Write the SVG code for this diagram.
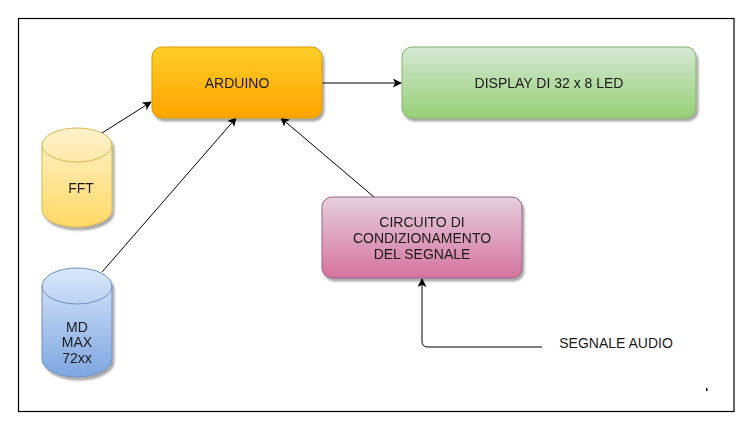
<svg xmlns="http://www.w3.org/2000/svg" width="753" height="431" viewBox="0 0 753 431">
<style>
text{font-family:"Liberation Sans",Arial,sans-serif;font-size:14px;fill:#1a1a1a;text-anchor:middle;dominant-baseline:central}
.c{fill:none;stroke:#000;stroke-width:1}
.sh{filter:url(#shadow)}
</style>
<defs>
<filter id="shadow" x="-20%" y="-20%" width="140%" height="150%">
<feGaussianBlur in="SourceAlpha" stdDeviation="1.2"/>
<feOffset dx="2" dy="3" result="o"/>
<feComponentTransfer><feFuncA type="linear" slope="0.35"/></feComponentTransfer>
<feMerge><feMergeNode/><feMergeNode in="SourceGraphic"/></feMerge>
</filter>
<linearGradient id="gOr" x1="0" y1="0" x2="0" y2="1"><stop offset="0" stop-color="#ffcd28"/><stop offset="1" stop-color="#ffa500"/></linearGradient>
<linearGradient id="gGr" x1="0" y1="0" x2="0" y2="1"><stop offset="0" stop-color="#d5e8d4"/><stop offset="1" stop-color="#97d077"/></linearGradient>
<linearGradient id="gPk" x1="0" y1="0" x2="0" y2="1"><stop offset="0" stop-color="#e6d0de"/><stop offset="1" stop-color="#d5739d"/></linearGradient>
<linearGradient id="gYe" x1="0" y1="0" x2="0" y2="1"><stop offset="0" stop-color="#fff2cc"/><stop offset="1" stop-color="#ffd966"/></linearGradient>
<linearGradient id="gBl" x1="0" y1="0" x2="0" y2="1"><stop offset="0" stop-color="#dae8fc"/><stop offset="1" stop-color="#7ea6e0"/></linearGradient>
<marker id="arr" viewBox="0 0 10 10" refX="9" refY="5" markerWidth="9" markerHeight="9" orient="auto" markerUnits="userSpaceOnUse">
<path d="M0,0 L10,5 L0,10 L2.5,5 Z" fill="#000"/>
</marker>
</defs>
<rect x="0" y="0" width="753" height="431" fill="#fff"/>
<rect x="18.5" y="18.5" width="715.5" height="393" fill="none" stroke="#000" stroke-width="1.2"/>

<g id="connectors">
<line class="c" x1="102" y1="133" x2="151" y2="102" marker-end="url(#arr)"/>
<line class="c" x1="102" y1="272" x2="236" y2="118" marker-end="url(#arr)"/>
<line class="c" x1="374" y1="197" x2="281" y2="118" marker-end="url(#arr)"/>
<line class="c" x1="322" y1="83" x2="401" y2="83" marker-end="url(#arr)"/>
<path class="c" d="M542,347 L428,347 Q422,347 422,341 L422,279" marker-end="url(#arr)"/>
</g>

<g id="arduino" class="sh">
<rect x="152" y="47" width="170" height="71" rx="10" fill="url(#gOr)" stroke="#d79b00"/>
<text x="237" y="83">ARDUINO</text>
</g>

<g id="display" class="sh">
<rect x="402" y="47" width="294" height="71" rx="10" fill="url(#gGr)" stroke="#82b366"/>
<text x="549" y="83">DISPLAY DI 32 x 8 LED</text>
</g>

<g id="circuito" class="sh">
<rect x="322" y="197" width="200" height="81" rx="10" fill="url(#gPk)" stroke="#996185"/>
<text x="422" y="222">CIRCUITO DI</text>
<text x="422" y="238">CONDIZIONAMENTO</text>
<text x="422" y="254">DEL SEGNALE</text>
</g>

<g id="fft" class="sh">
<path d="M42,145 A35,17 0 0 1 112,145 L112,210 A35,17 0 0 1 42,210 Z" fill="url(#gYe)" stroke="#d6b656"/>
<path d="M42,145 A35,17 0 0 0 112,145" fill="none" stroke="#d6b656"/>
<text x="81" y="188">FFT</text>
</g>

<g id="mdmax" class="sh">
<path d="M42,286 A35,18 0 0 1 112,286 L112,359 A35,18 0 0 1 42,359 Z" fill="url(#gBl)" stroke="#6c8ebf"/>
<path d="M42,286 A35,18 0 0 0 112,286" fill="none" stroke="#6c8ebf"/>
<text x="77" y="327">MD</text>
<text x="77" y="342">MAX</text>
<text x="77" y="358">72xx</text>
</g>

<g id="segnale">
<text x="616" y="343">SEGNALE AUDIO</text>
</g>

<rect x="706" y="388" width="1.5" height="3" fill="#000"/>
</svg>
